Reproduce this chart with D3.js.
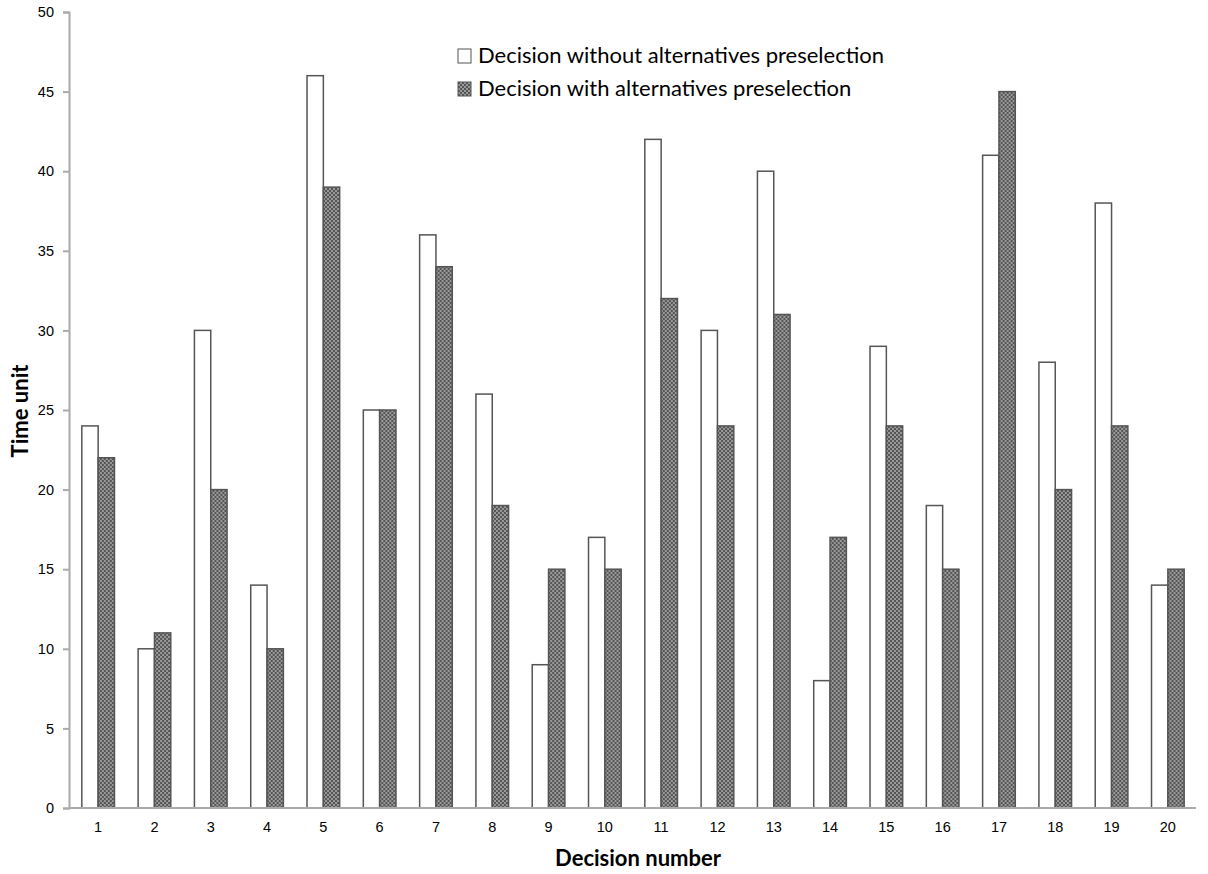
<!DOCTYPE html>
<meta charset="utf-8">
<style>
body { margin: 0; background: #fff; }
svg { font-family: Lato, "Open Sans", sans-serif; }
.axis path, .axis line { stroke: #aaa; stroke-width: 2px; }
.axis text { font-size: 14.5px; fill: #000; }
.bar { stroke: #555; stroke-width: 1.5px; }
</style>
<svg width="1208" height="874"></svg>
<script src="https://d3js.org/d3.v7.min.js"></script>
<script>

var decisions = d3.range(1, 21).map(String);
var withoutPre = [24, 10, 30, 14, 46, 25, 36, 26, 9, 17, 42, 30, 40, 8, 29, 19, 41, 28, 38, 14];
var withPre    = [22, 11, 20, 10, 39, 25, 34, 19, 15, 15, 32, 24, 31, 17, 24, 15, 45, 20, 24, 15];
var seriesNames = ["Decision without alternatives preselection", "Decision with alternatives preselection"];
var yTicks = [0, 5, 10, 15, 20, 25, 30, 35, 40, 45, 50];

var svg = d3.select("svg");

var defs = svg.append("defs");
var pat = defs.append("pattern")
    .attr("id", "checker")
    .attr("width", 4).attr("height", 4)
    .attr("patternUnits", "userSpaceOnUse");
pat.append("rect").attr("width", 4).attr("height", 4).attr("fill", "#9a9a9a");
pat.append("rect").attr("width", 2).attr("height", 2).attr("fill", "#555");
pat.append("rect").attr("x", 2).attr("y", 2).attr("width", 2).attr("height", 2).attr("fill", "#555");

var x = d3.scaleBand()
    .domain(decisions)
    .range([70, 1196])
    .paddingInner(0.42)
    .paddingOuter(0.21);

var x1 = d3.scaleBand()
    .domain([0, 1])
    .range([0, x.bandwidth()]);

var y = d3.scaleLinear()
    .domain([0, 50])
    .range([808, 12]);

var fills = ["#fff", "url(#checker)"];

var groups = svg.append("g").selectAll("g")
    .data(decisions)
    .enter().append("g")
    .attr("transform", function(d) { return "translate(" + x(d) + ",0)"; });

groups.selectAll("rect")
    .data(function(d, i) { return [withoutPre[i], withPre[i]]; })
    .enter().append("rect")
    .attr("class", "bar")
    .attr("x", function(d, j) { return x1(j); })
    .attr("width", x1.bandwidth())
    .attr("y", function(d) { return y(d); })
    .attr("height", function(d) { return y(0) - y(d); })
    .attr("fill", function(d, j) { return fills[j]; });

// y axis
svg.append("g")
    .attr("class", "axis")
    .attr("transform", "translate(69,0)")
    .call(d3.axisLeft(y).tickValues(yTicks).tickSizeInner(6).tickSizeOuter(6).tickPadding(9));

// x axis
var xAxis = svg.append("g")
    .attr("class", "axis")
    .attr("transform", "translate(0,808)")
    .call(d3.axisBottom(x).tickSize(0).tickPadding(14));
xAxis.select(".domain").attr("d", "M69,0H1196");

svg.append("text")
    .attr("transform", "translate(28,411) rotate(-90)")
    .attr("text-anchor", "middle")
    .style("font-size", "22px")
    .style("font-weight", "bold")
    .text("Time unit");

svg.append("text")
    .attr("x", 638)
    .attr("y", 866)
    .attr("text-anchor", "middle")
    .style("font-size", "22px")
    .style("font-weight", "bold")
    .text("Decision number");

// legend
var legend = svg.append("g").selectAll("g")
    .data(seriesNames)
    .enter().append("g")
    .attr("transform", function(d, i) { return "translate(458," + (49 + i * 33) + ")"; });

legend.append("rect")
    .attr("width", 13).attr("height", 14)
    .attr("stroke", "#555").attr("stroke-width", 1)
    .attr("fill", function(d, i) { return fills[i]; });

legend.append("text")
    .attr("x", 20)
    .attr("y", 14)
    .style("font-size", "22px")
    .text(function(d) { return d; });

</script>
